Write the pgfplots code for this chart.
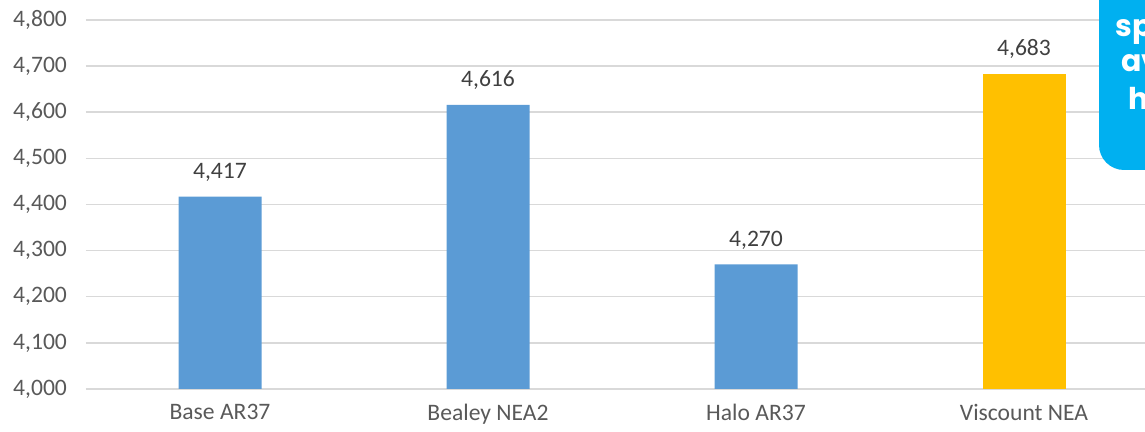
\documentclass[border=0pt]{standalone}
\usepackage{pgfplots}
\pgfplotsset{compat=1.18}
\usepackage{fontspec}
\setmainfont{Carlito}
\newfontfamily\callfont{Poppins}
\definecolor{barblue}{HTML}{5B9BD5}
\definecolor{baryellow}{HTML}{FFC000}
\definecolor{gridgray}{HTML}{D9D9D9}
\definecolor{ticktext}{HTML}{595959}
\definecolor{valtext}{HTML}{404040}
\definecolor{callblue}{HTML}{00B0F0}
\begin{document}
\begin{tikzpicture}[x=1pt,y=1pt]
\path[use as bounding box] (0,0) rectangle (572.5,216);
\clip (0,0) rectangle (572.5,216);
\begin{axis}[
  at={(43pt,21.5pt)}, anchor=south west,
  scale only axis, width=536pt, height=184.5pt,
  xmin=-0.5, xmax=3.5, ymin=4000, ymax=4800,
  ytick={4000,4100,...,4800},
  xtick={0,1,2,3},
  xticklabels={Base AR37, Bealey NEA2, Halo AR37, Viscount NEA},
  ymajorgrids, grid style={draw=gridgray, line width=0.75pt},
  axis lines*=left,
  y axis line style={draw=none},
  x axis line style={draw=gridgray, line width=0.75pt, -},
  major tick length=0pt,
  tick style={draw=none},
  /pgf/number format/.cd, 1000 sep={,}, assume math mode=true,
  /pgfplots/.cd,
  yticklabel style={font=\fontsize{11.8}{14}\selectfont, text=ticktext, xshift=-6pt},
  xticklabel style={font=\fontsize{11.8}{14}\selectfont, text=ticktext, yshift=-4pt},
  ybar, bar width=41.5pt, bar shift=0pt,
  nodes near coords,
  nodes near coords style={font=\fontsize{11.8}{14}\selectfont, text=valtext, yshift=4pt},
  clip=false,
]
\addplot[fill=barblue, draw=none] coordinates {(0,4417) (1,4616) (2,4270)};
\addplot[fill=baryellow, draw=none] coordinates {(3,4683)};
\end{axis}
\fill[callblue, rounded corners=12.5pt] (549.5,131) rectangle (610,240);
\node[anchor=base west, inner sep=0pt, text=white, font=\callfont\bfseries\fontsize{15}{18}\selectfont] at (557.5,197.5) {sp};
\node[anchor=base west, inner sep=0pt, text=white, font=\callfont\bfseries\fontsize{15}{18}\selectfont] at (560.5,180) {av};
\node[anchor=base west, inner sep=0pt, text=white, font=\callfont\bfseries\fontsize{15}{18}\selectfont] at (564,161) {h};
\end{tikzpicture}
\end{document}
